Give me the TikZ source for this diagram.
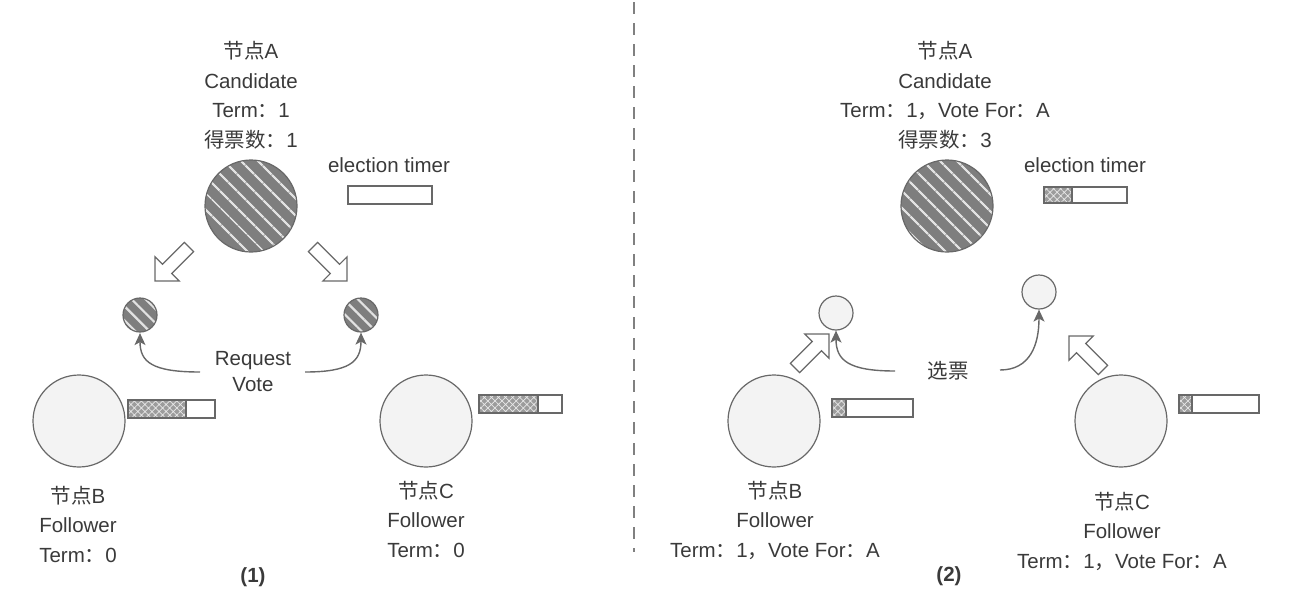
\documentclass[tikz,border=0pt]{standalone}
\usepackage{fontspec}
\setmainfont{Liberation Sans}
\newfontfamily\cjk{Noto Sans CJK SC}
\usetikzlibrary{patterns.meta,arrows.meta}
\newcommand\zh[1]{{\cjk #1}}
\definecolor{strokecol}{HTML}{686868}
\definecolor{textcol}{HTML}{3A3A3A}
\definecolor{bigfill}{HTML}{7E7E7E}
\definecolor{stripecol}{HTML}{E2E2E2}
\definecolor{follfill}{HTML}{F3F3F3}
\definecolor{timerfill}{HTML}{9C9C9C}
\newcommand\hollowarrow[3]{%
  \begin{scope}[shift={(#1,#2)},rotate=#3]
    \draw[harrow] (0,-6.5) -- (31,-6.5) -- (31,-17) -- (48,0) -- (31,17) -- (31,6.5) -- (0,6.5) -- cycle;
  \end{scope}}
\newcommand\timerbar[5]{% x1 y1 x2 y2 xfill
  \ifdim #5pt>#1pt
    \path[preaction={fill=timerfill}, pattern={Hatch[angle=45,distance=5pt,line width=0.7pt]}, pattern color=white!82!gray] (#1,#2) rectangle (#5,#4);
    \draw[timerline] (#5,#2) -- (#5,#4);
  \fi
  \draw[timerline] (#1,#2) rectangle (#3,#4);}
\begin{document}
\begin{tikzpicture}[x=1pt,y=-1pt,
  lbl/.style={text=textcol, font=\fontsize{20.5}{29.5}\selectfont, align=center, inner sep=0pt},
  cand/.style={circle, draw=strokecol, line width=1.2pt, minimum size=92pt, inner sep=0pt,
    preaction={fill=bigfill}, pattern={Lines[angle=-45,distance=13pt,line width=2.6pt]}, pattern color=stripecol},
  smallcand/.style={circle, draw=strokecol, line width=1.2pt, minimum size=34pt, inner sep=0pt,
    preaction={fill=bigfill}, pattern={Lines[angle=-45,distance=10pt,line width=2.2pt]}, pattern color=stripecol},
  foll/.style={circle, draw=strokecol, line width=1.2pt, minimum size=92pt, inner sep=0pt, fill=follfill},
  smallfoll/.style={circle, draw=strokecol, line width=1.2pt, minimum size=34pt, inner sep=0pt, fill=follfill},
  harrow/.style={draw=strokecol, line width=1.2pt, fill=white, line join=miter},
  timerline/.style={draw=strokecol, line width=1.1pt},
  curve/.style={draw=strokecol, line width=1.4pt, -{Stealth[length=12pt,width=11pt,inset=3pt]}},
  divider/.style={draw=gray, line width=1.2pt, dash pattern=on 12pt off 9pt},
]
\useasboundingbox (0,0) rectangle (1298,606);

% ---------- divider ----------
\coordinate (d0) at (634,2);
\coordinate (d1) at (634,552);
\draw[divider] (d0) -- (d1);

% ---------- panel (1) ----------
\node[lbl] (tA1) at (251,95) {\zh{节点}A\\Candidate\\Term\zh{：}1\\\zh{得票数：}1};
\node[cand] (A1) at (251,206) {};
\node[lbl] (et1) at (389,165) {election timer};
\timerbar{348}{186}{432}{204}{348}

\hollowarrow{189}{247}{-135}
\hollowarrow{313}{247}{-45}

\node[smallcand] (s1) at (140,315) {};
\node[smallcand] (s2) at (361,315) {};

\node[lbl, font=\fontsize{20.5}{26}\selectfont] (rv) at (253,372) {Request\\Vote};
\coordinate (r1) at (200,372);
\coordinate (r2) at (305,372);
\draw[curve] (r1) .. controls (152,372) and (140,362) .. (s1.south);
\draw[curve] (r2) .. controls (349,372) and (361,362) .. (s2.south);

\node[foll] (B1) at (79,421) {};
\timerbar{128}{400}{215}{418}{186}
\node[lbl] (tB1) at (78,524) {\zh{节点}B\\Follower\\Term\zh{：}0};

\node[foll] (C1) at (426,421) {};
\timerbar{479}{395}{562}{413}{538}
\node[lbl] (tC1) at (426,519) {\zh{节点}C\\Follower\\Term\zh{：}0};

\node[lbl, font=\bfseries\fontsize{20.5}{24}\selectfont] (n1) at (253,577) {(1)};

% ---------- panel (2) ----------
\node[lbl] (tA2) at (945,95) {\zh{节点}A\\Candidate\\Term\zh{：}1\zh{，}Vote For\zh{：}A\\\zh{得票数：}3};
\node[cand] (A2) at (947,206) {};
\node[lbl] (et2) at (1085,165) {election timer};
\timerbar{1044}{187}{1127}{203}{1072}

\node[smallfoll] (s3) at (836,313) {};
\node[smallfoll] (s4) at (1039,292) {};

\hollowarrow{795}{368}{45}
\hollowarrow{1103}{370}{135}

\node[lbl] (xp) at (948,371) {\zh{选票}};
\coordinate (r3) at (895,371);
\coordinate (r4) at (1000,370);
\draw[curve] (r3) .. controls (848,371) and (836,360) .. (s3.south);
\draw[curve] (r4) .. controls (1030,370) and (1039,345) .. (s4.south);

\node[foll] (B2) at (774,421) {};
\timerbar{832}{399}{913}{417}{846}
\node[lbl] (tB2) at (775,520) {\zh{节点}B\\Follower\\Term\zh{：}1\zh{，}Vote For\zh{：}A};

\node[foll] (C2) at (1121,421) {};
\timerbar{1179}{395}{1259}{413}{1192}
\node[lbl] (tC2) at (1122,531) {\zh{节点}C\\Follower\\Term\zh{：}1\zh{，}Vote For\zh{：}A};

\node[lbl, font=\bfseries\fontsize{20.5}{24}\selectfont] (n2) at (949,576) {(2)};
\end{tikzpicture}
\end{document}
